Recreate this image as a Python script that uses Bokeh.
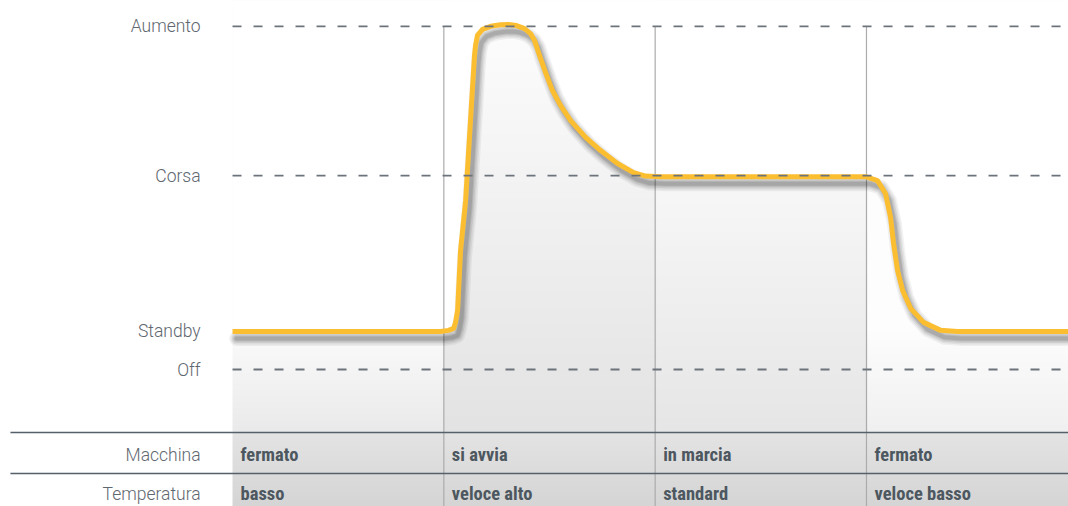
import numpy as np
from bokeh.plotting import figure
from bokeh.models import Range1d, ColumnDataSource
from bokeh.core.properties import value
from bokeh.transform import dodge
from bokeh.embed import file_html
from bokeh.resources import INLINE

# ---------------- data ----------------
level_names = ["Off", "Standby", "Corsa", "Aumento"]
level_values = [0, 10, 51, 90.3]
dashed_names = ["Off", "Corsa", "Aumento"]

phase_starts = [0, 100, 200, 300]
macchina = ["fermato", "si avvia", "in marcia", "fermato"]
temperatura = ["basso", "veloce alto", "standard", "veloce basso"]
row_labels = ["Macchina", "Temperatura"]

curve_x = [0, 98.4, 102.2, 104.6, 105.5, 106.5, 107.9, 110.3, 112.6, 114.5,
           115.0, 115.9, 118.3, 122.1, 126.8, 130.6, 134.4, 138.2, 141.0, 142.9,
           144.8, 148.1, 151.4, 155.2, 160.0, 167.1, 174.2, 182.2, 189.8, 195.5,
           202.6, 300.0, 305.2, 309.0, 311.4, 312.8, 314.7, 317.1, 320.9, 327.0,
           335.1, 343.1, 395.6]
curve_y = [10, 10, 10.3, 10.8, 12.4, 15.5, 31.3, 44.5, 65.5, 82.6,
           85.3, 87.9, 89.5, 90.3, 90.7, 90.8, 90.5, 89.7, 88.4, 86.6,
           83.4, 78.2, 73.4, 69.5, 65.5, 61.1, 57.6, 54.2, 51.8, 50.9,
           50.7, 50.7, 49.7, 46.3, 40.0, 33.2, 26.1, 20.8, 16.1, 12.4,
           10.3, 10.0, 10.0]

# ---------------- layout / style ----------------
W, H = 1068, 506
X_MIN, X_MAX = -109.8, 395.6
Y_MIN, Y_MAX = -36.05, 97.1
TABLE_TOP = -16.58
ROW_SPLIT = -27.37
ROW_CENTERS = [-22.5, -32.7]
LABEL_X = -15.1
LINE_LEFT = -105.1

YELLOW = "#fcbe31"
LABEL_COLOR = "#5f676f"
CELL_COLOR = "#4d5760"
DASH_COLOR = "#6c737a"
RULE_COLOR = "#56606a"
VLINE_COLOR = "#ababab"
LABEL_FONT = value("Roboto Light")
CELL_FONT = value("Roboto Condensed, DejaVu Sans Condensed")

p = figure(width=W, height=H, x_range=Range1d(X_MIN, X_MAX), y_range=Range1d(Y_MIN, Y_MAX),
           output_backend="svg", toolbar_location=None, min_border=0,
           x_axis_location=None, y_axis_location=None)
p.grid.visible = False
p.outline_line_color = None
p.background_fill_color = "white"
p.border_fill_color = "white"

px_per_x = W / (X_MAX - X_MIN)
px_per_y = H / (Y_MAX - Y_MIN)


def rgba_image(gray):
    h, w = gray.shape
    img = np.empty((h, w), dtype=np.uint32)
    v = img.view(dtype=np.uint8).reshape((h, w, 4))
    g = np.clip(gray, 0, 255).astype(np.uint8)
    v[..., 0] = g
    v[..., 1] = g
    v[..., 2] = g
    v[..., 3] = 255
    return img


# gradient under the curve, one per phase column
col_style = [  # (top level, top gray, bottom gray)
    (level_values[1], 251, 234),
    (level_values[3], 253, 227),
    (level_values[2], 248, 230),
    (level_values[1], 253, 240),
]
gw = int(round((X_MAX - 0) * px_per_x))
gh = int(round((Y_MAX - TABLE_TOP) * px_per_y))
xs = (np.arange(gw) + 0.5) / px_per_x
ys = TABLE_TOP + (np.arange(gh) + 0.5) / px_per_y
col_idx = np.clip(np.searchsorted(phase_starts, xs, side="right") - 1, 0, 3)
gray = np.zeros((gh, gw))
for ci, (top, g0, g1) in enumerate(col_style):
    t = np.clip((top - ys) / (top - TABLE_TOP), 0, 1)
    colvals = g0 + (g1 - g0) * t
    gray[:, col_idx == ci] = colvals[:, None]
p.image_rgba(image=[rgba_image(gray)], x=0, y=TABLE_TOP, dw=X_MAX, dh=Y_MAX - TABLE_TOP)

# table background
th = int(round((TABLE_TOP - Y_MIN) * px_per_y))
ty = Y_MIN + (np.arange(th) + 0.5) / px_per_y
tg = 213 + (228 - 213) * (ty - Y_MIN) / (TABLE_TOP - Y_MIN)
p.image_rgba(image=[rgba_image(np.repeat(tg[:, None], gw, axis=1))],
             x=0, y=Y_MIN, dw=X_MAX, dh=TABLE_TOP - Y_MIN)

src = ColumnDataSource(dict(x=curve_x, y=curve_y))

# white above the curve
p.varea(x="x", y1="y", y2=Y_MAX, source=src, fill_color="white", fill_alpha=1.0)

# vertical phase separators
p.segment(x0=phase_starts[1:], y0=Y_MIN, x1=phase_starts[1:], y1=level_values[3],
          line_color=VLINE_COLOR, line_width=1.2)

# table rules
p.segment(x0=LINE_LEFT, y0=[TABLE_TOP, ROW_SPLIT], x1=X_MAX, y1=[TABLE_TOP, ROW_SPLIT],
          line_color=RULE_COLOR, line_width=1.6)

# soft shadow of the curve
sx, sy = 4 / px_per_x, -7 / px_per_y
for lw, a in [(15, 0.05), (12, 0.06), (9, 0.08), (6, 0.09), (4, 0.09)]:
    p.line(x=dodge("x", sx), y=dodge("y", sy), source=src, line_color="black",
           line_alpha=a, line_width=lw, line_join="round", line_cap="round")

# curve
p.line(x="x", y="y", source=src, line_color=YELLOW, line_width=5, line_join="round")

# dashed level lines
dash_y = [level_values[level_names.index(n)] for n in dashed_names]
p.segment(x0=0, y0=dash_y, x1=X_MAX, y1=dash_y, line_color=DASH_COLOR,
          line_width=1.8, line_dash="9 12")

# level labels
p.text(x=LABEL_X, y=level_values, text=level_names, text_align="right",
       text_baseline="middle", text_font=LABEL_FONT,
       text_font_size="17.5px", text_color=LABEL_COLOR)

# row labels
p.text(x=LABEL_X, y=ROW_CENTERS, text=row_labels, text_align="right",
       text_baseline="middle", text_font=LABEL_FONT,
       text_font_size="17.5px", text_color=LABEL_COLOR)

# cells
for row_y, vals in zip(ROW_CENTERS, [macchina, temperatura]):
    p.text(x=phase_starts, y=row_y, text=vals, x_offset=8, text_align="left",
           text_baseline="middle", text_font=CELL_FONT,
           text_font_style="bold", text_font_size="18.5px", text_color=CELL_COLOR)

open("out.html", "w").write(file_html(p, INLINE))
